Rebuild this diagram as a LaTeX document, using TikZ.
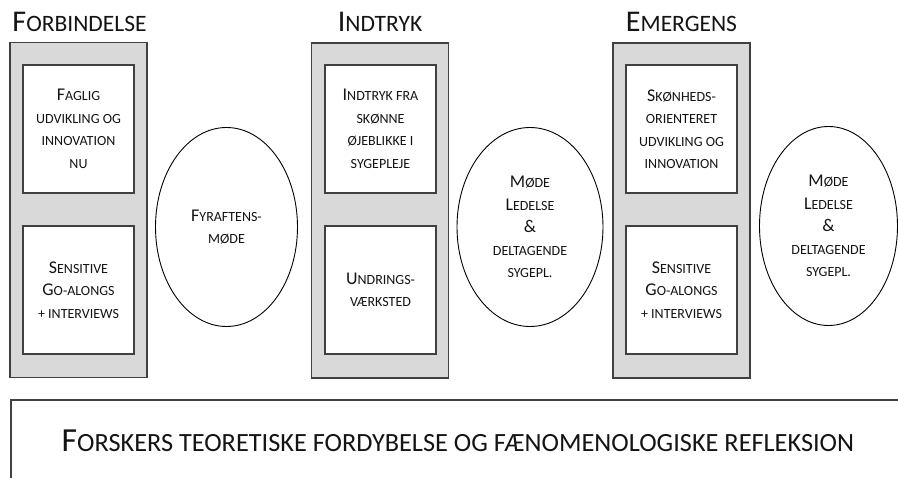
\documentclass[tikz,border=0pt]{standalone}
\usepackage{fontspec}
\setmainfont{Carlito}
\usepackage{graphicx}
\usetikzlibrary{shapes.geometric}
\definecolor{txt}{HTML}{141414}
\definecolor{edge}{HTML}{404040}
\definecolor{panelgray}{HTML}{D9D9D9}
\newcommand\Bg[1]{\scalebox{1.28}{#1}}
\tikzset{
  headline/.style={font=\fontsize{23.5}{28}\selectfont, text=txt, inner sep=0},
  panel/.style={draw=edge, fill=panelgray, line width=1.1pt, minimum width=137pt, minimum height=335pt, inner sep=0},
  cell/.style={draw=edge, fill=white, line width=1.1pt, minimum width=111pt, minimum height=128pt, inner sep=0, align=center, font=\fontsize{14}{22.5}\selectfont, text=txt},
  oval/.style={ellipse, draw=black, line width=0.9pt, minimum width=142pt, minimum height=199pt, inner sep=0, align=center, font=\fontsize{14}{22.5}\selectfont, text=txt},
  frame/.style={draw=edge, line width=1.6pt, minimum width=900pt, minimum height=100pt, inner sep=0},
}
\begin{document}
\begin{tikzpicture}[x=1pt, y=-1pt]
\useasboundingbox[fill=white] (0,0) rectangle (898,478);
% titles
\node[headline] (t1) at (79.5,22) {\Bg{F}ORBINDELSE};
\node[headline] (t2) at (380,22) {\Bg{I}NDTRYK};
\node[headline] (t3) at (681.5,22) {\Bg{E}MERGENS};
% panels
\node[panel] (p1) at (78.5,210) {};
\node[panel] (p2) at (380,210.5) {};
\node[panel] (p3) at (681.5,210.5) {};
% cells
\node[cell] (c11) at (78.5,129) {\Bg{F}AGLIG\\UDVIKLING OG\\INNOVATION\\NU};
\node[cell] (c12) at (78.5,290) {\Bg{S}ENSITIVE\\\Bg{G}O-ALONGS\\+ INTERVIEWS};
\node[cell] (c21) at (380.5,129) {\Bg{I}NDTRYK FRA\\SKØNNE\\ØJEBLIKKE I\\SYGEPLEJE};
\node[cell] (c22) at (380.5,290) {\Bg{U}NDRINGS-\\VÆRKSTED};
\node[cell] (c31) at (681.5,129) {\Bg{S}KØNHEDS-\\ORIENTERET\\UDVIKLING OG\\INNOVATION};
\node[cell] (c32) at (681.5,290) {\Bg{S}ENSITIVE\\\Bg{G}O-ALONGS\\+ INTERVIEWS};
% ovals
\node[oval] (e1) at (226.5,227) {\Bg{F}YRAFTENS-\\MØDE};
\node[oval, minimum width=146pt] (e2) at (530,227) {\Bg{M}ØDE\\\Bg{L}EDELSE\\\Bg{\&}\\DELTAGENDE\\SYGEPL.};
\node[oval, minimum width=138pt] (e3) at (828.5,226) {\Bg{M}ØDE\\\Bg{L}EDELSE\\\Bg{\&}\\DELTAGENDE\\SYGEPL.};
% bottom frame
\node[frame, anchor=north west] (bf) at (10,399) {};
\node[headline, font=\fontsize{26.3}{30}\selectfont] (bt) at (458,441) {\Bg{F}ORSKERS TEORETISKE FORDYBELSE OG FÆNOMENOLOGISKE REFLEKSION};
\end{tikzpicture}
\end{document}
